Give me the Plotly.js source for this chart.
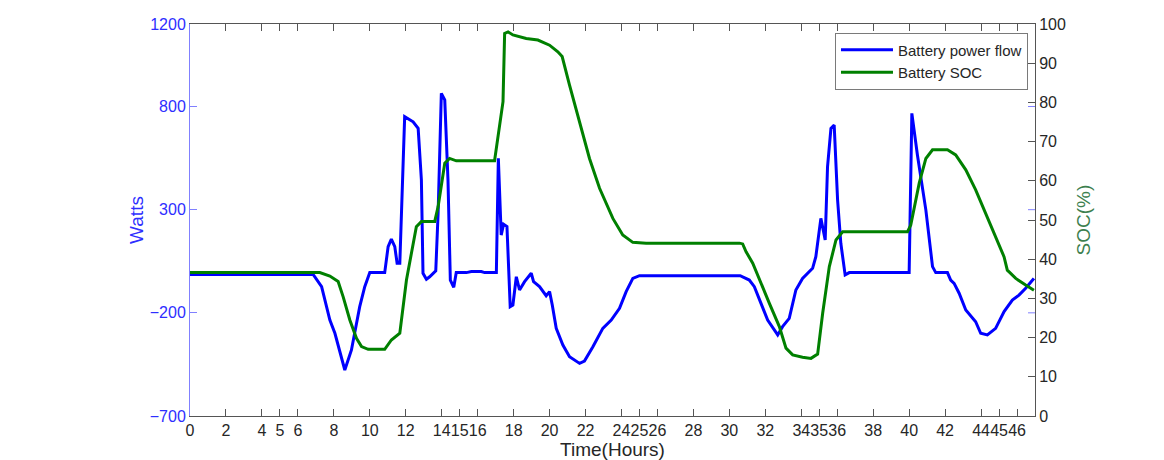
<!DOCTYPE html>
<html>
<head>
<meta charset="utf-8">
<script src="https://cdn.plot.ly/plotly-3.0.1.min.js"></script>
<style>
  html, body { margin: 0; padding: 0; background: #fff; }
  #chart { width: 1164px; height: 460px; }
</style>
</head>
<body>
<div id="chart"></div>
<script>
// Battery power flow (W) over time (hours)
const powerHours = [0, 6.85, 7.32, 7.78, 8.06, 8.61, 8.98, 9.44, 9.72, 10.0, 10.83, 11.02, 11.2, 11.39, 11.52, 11.67,
  11.94, 12.41, 12.69, 12.87, 12.96, 13.15, 13.33, 13.67, 13.8, 13.98, 14.17, 14.35, 14.48, 14.67, 14.81, 15.37,
  15.65, 16.2, 16.39, 17.04, 17.15, 17.31, 17.44, 17.63, 17.81, 17.96, 18.15, 18.33, 18.61, 18.98, 19.11, 19.44,
  19.81, 20.0, 20.15, 20.37, 20.74, 21.11, 21.67, 21.94, 22.41, 22.96, 23.43, 23.89, 24.26, 24.63, 25.0, 30.6,
  31.11, 31.39, 31.76, 32.13, 32.69, 32.96, 33.33, 33.52, 33.7, 34.07, 34.44, 34.63, 34.81, 34.96, 35.09, 35.22,
  35.33, 35.46, 35.65, 35.83, 36.02, 36.2, 36.44, 36.67, 40.0, 40.15, 40.46, 40.93, 41.3, 41.48, 42.13, 42.31,
  42.5, 42.78, 43.15, 43.7, 43.98, 44.35, 44.81, 45.28, 45.74, 46.11, 46.48, 46.94];
const powerWatts = [-14, -14, -73, -235, -299, -477, -380, -170, -73, -5, -5, 121, 157, 121, 40, 40,
  751, 726, 694, 444, -8, -37, -25, 4, 283, 864, 832, 444, -41, -76, -5, -5,
  0, 0, -5, -5, 549, 177, 229, 218, -170, -162, -25, -89, -49, -8, -49, -73,
  -117, -97, -162, -275, -356, -413, -445, -434, -364, -275, -235, -178, -97, -33, -20, -20,
  -41, -73, -154, -235, -307, -267, -227, -154, -89, -33, 0, 16, 72, 169, 258, 202,
  153, 508, 694, 710, 347, 137, -16, -5, -5, 767, 565, 298, 24, -5, -5, -41,
  -57, -105, -186, -243, -299, -307, -275, -194, -138, -114, -81, -33];

// Battery state of charge (%) over time (hours)
const socHours = [0, 7.22, 7.78, 8.24, 8.52, 8.89, 9.26, 9.54, 9.91, 10.83, 11.2, 11.67, 12.04, 12.59, 12.87, 13.61,
  13.8, 14.17, 14.44, 14.81, 16.94, 17.22, 17.41, 17.5, 17.69, 17.96, 18.7, 19.35, 20.0, 20.46, 20.7, 21.11,
  21.67, 22.22, 22.78, 23.52, 24.07, 24.63, 25.37, 30.56, 30.74, 30.93, 31.3, 31.67, 32.22, 32.78, 33.15, 33.52,
  34.07, 34.54, 34.91, 35.19, 35.56, 35.93, 36.3, 39.91, 40.09, 40.56, 40.93, 41.3, 42.13, 42.59, 43.15, 43.7,
  44.26, 44.81, 45.28, 45.46, 45.93, 46.48, 46.94];
const socPercent = [36.6, 36.6, 35.7, 34.3, 30.4, 24.5, 19.8, 17.7, 17.0, 17.0, 19.4, 21.1, 34.7, 48.3, 49.6, 49.6,
  53.4, 64.5, 65.7, 65.1, 65.1, 74.2, 80.2, 97.6, 98.0, 97.2, 96.3, 95.9, 94.6, 92.9, 91.7, 84.4,
  75.1, 65.7, 58.1, 50.4, 46.2, 44.3, 44.1, 44.1, 43.9, 41.9, 39.0, 34.7, 28.8, 22.8, 17.3, 15.6,
  15.0, 14.7, 15.8, 26.2, 38.1, 44.9, 47.0, 47.0, 48.7, 59.4, 65.7, 67.9, 67.9, 66.6, 62.8, 57.7,
  51.7, 45.7, 40.6, 37.2, 35.1, 33.4, 32.1];

// Axis ticks
const hourTicks = [0, 2, 4, 5, 6, 8, 10, 12, 14, 15, 16, 18, 20, 22, 24, 25, 26, 28, 30, 32, 34, 35, 36, 38, 40, 42, 44, 45, 46];
const wattTicks = [-700, -200, 300, 800, 1200];
const wattTickText = ['\u2212700', '\u2212200', '300', '800', '1200'];
const socTicks = [0, 10, 20, 30, 40, 50, 60, 70, 80, 90, 100];

const FONT = 'Liberation Sans, Arial, Helvetica, sans-serif';
const BLUE = '#0000ff';
const GREEN = '#008000';
const AXIS_BLUE = '#2e2eff';
const AXIS_GREY = '#555555';

const traces = [
  {
    x: powerHours, y: powerWatts, name: 'Battery power flow', type: 'scatter', mode: 'lines',
    line: { color: BLUE, width: 3 }, yaxis: 'y'
  },
  {
    x: socHours, y: socPercent, name: 'Battery SOC', type: 'scatter', mode: 'lines',
    line: { color: GREEN, width: 3 }, yaxis: 'y2'
  }
];

// Left-axis ticks repeated on the right edge, as short blue marks
const plotW = 1164 - 190 - 129;
const rightTicks = wattTicks.filter(v => v > -700 && v < 1200).map(v => ({
  type: 'line', xref: 'paper', yref: 'y', x0: 1, x1: 1 - 7 / plotW, y0: v, y1: v,
  line: { color: '#8080ff', width: 1 }, layer: 'above'
}));

const layout = {
  width: 1164, height: 460,
  margin: { l: 190, r: 129, t: 24, b: 44 },
  paper_bgcolor: '#ffffff', plot_bgcolor: '#ffffff',
  font: { family: FONT, size: 16, color: '#262626' },
  showlegend: true,
  legend: {
    x: 0.9917, y: 0.978, xanchor: 'right', yanchor: 'top',
    bgcolor: '#ffffff', bordercolor: '#7a7a7a', borderwidth: 1,
    font: { family: FONT, size: 15, color: '#262626' },
    itemwidth: 52, tracegroupgap: 0
  },
  xaxis: {
    range: [0, 47], tickvals: hourTicks, ticktext: hourTicks.map(String), tickangle: 0,
    ticks: 'inside', ticklen: 7, tickcolor: AXIS_GREY, tickwidth: 1,
    showline: true, linecolor: AXIS_GREY, linewidth: 1, mirror: 'ticks',
    showgrid: false, zeroline: false,
    tickfont: { family: FONT, size: 16, color: '#262626' },
    title: { text: 'Time(Hours)', font: { family: FONT, size: 19, color: '#262626' }, standoff: 0 }
  },
  yaxis: {
    range: [-700, 1200], tickvals: wattTicks, ticktext: wattTickText,
    ticks: 'inside', ticklen: 7, tickcolor: '#8080ff', tickwidth: 1,
    showline: true, linecolor: '#8080ff', linewidth: 1,
    showgrid: false, zeroline: false,
    tickfont: { family: FONT, size: 16, color: AXIS_BLUE },
    title: { text: 'Watts', font: { family: FONT, size: 19, color: AXIS_BLUE }, standoff: 1 }
  },
  yaxis2: {
    range: [0, 100], tickvals: socTicks, overlaying: 'y', side: 'right',
    ticks: 'inside', ticklen: 7, tickcolor: AXIS_GREY, tickwidth: 1,
    showline: true, linecolor: AXIS_GREY, linewidth: 1,
    showgrid: false, zeroline: false,
    tickfont: { family: FONT, size: 16, color: '#262626' },
    title: { text: 'SOC(%)', font: { family: FONT, size: 19, color: '#3d7f4f' }, standoff: 11 }
  },
  shapes: rightTicks
};

Plotly.newPlot('chart', traces, layout, { displayModeBar: false, staticPlot: true });
</script>
</body>
</html>
